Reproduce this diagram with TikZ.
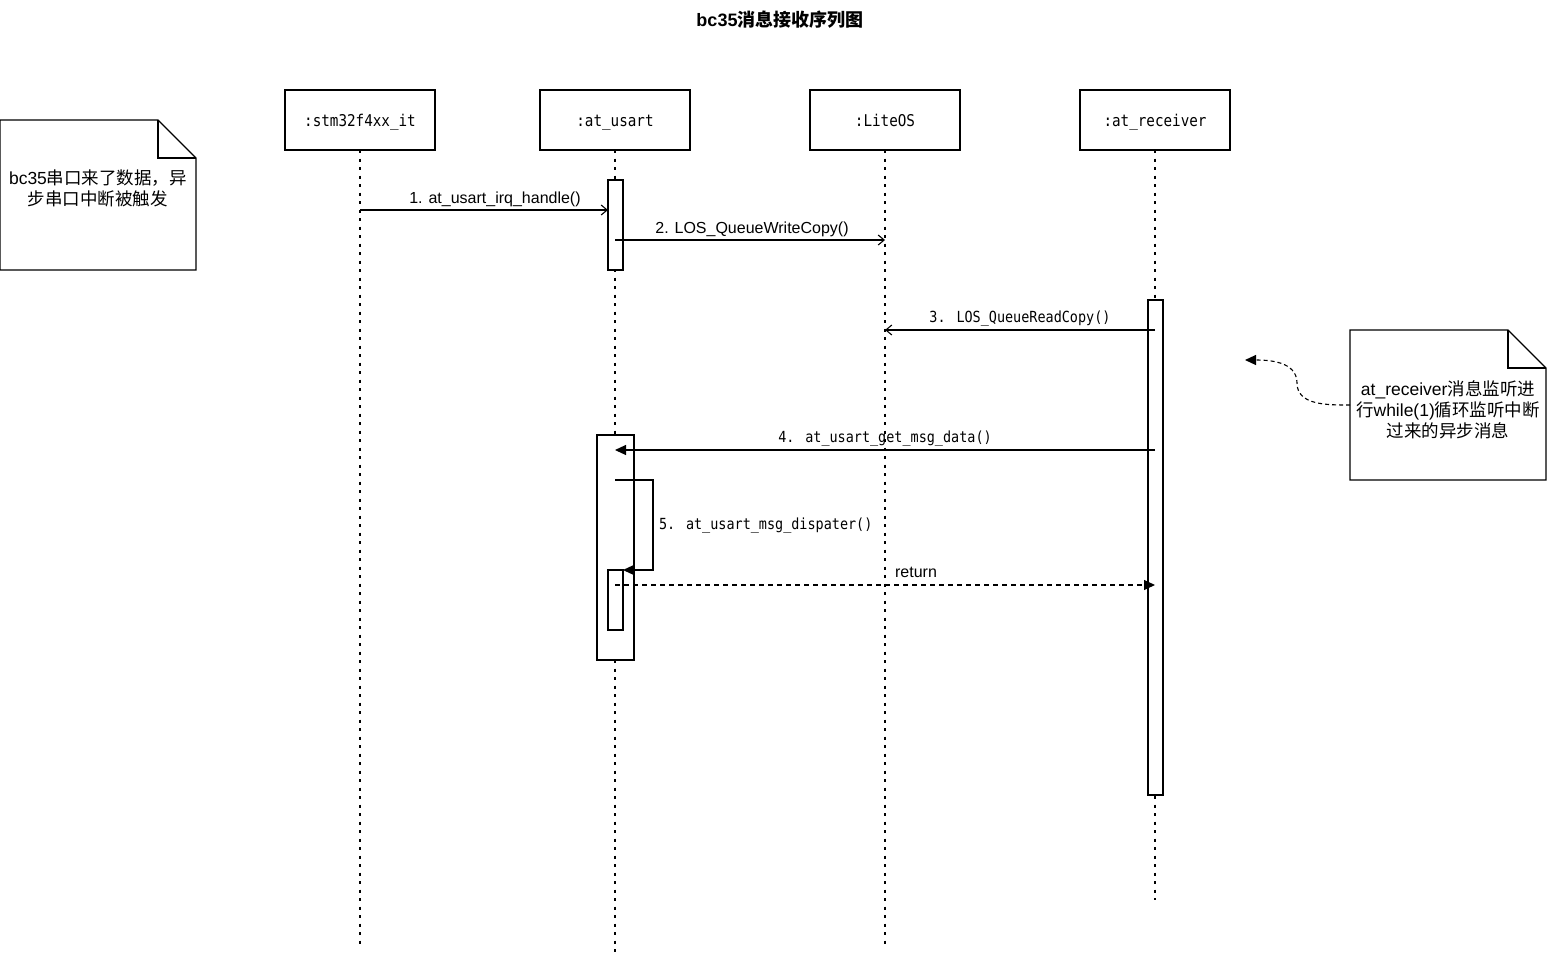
\documentclass[tikz,border=0pt]{standalone}
\usepackage{fontspec}
\setmainfont{Liberation Sans}
\newfontfamily\cjk{Noto Sans CJK SC}
\newfontfamily\mono[FakeStretch=0.88]{DejaVu Sans Mono}
\usetikzlibrary{arrows.meta}
\begin{document}
\begin{tikzpicture}[x=1pt,y=-1pt,
  every node/.style={inner sep=0pt, outer sep=0pt},
  obj/.style={draw, line width=1.1pt, minimum width=150pt, minimum height=60pt, font=\mono\fontsize{16.2}{18}\selectfont, text height=12pt, text depth=0pt, anchor=north west},
  life/.style={line width=1.1pt, dash pattern=on 3pt off 5.5pt},
  act/.style={draw, fill=white, line width=1.1pt, anchor=north west},
  msg/.style={line width=1.1pt},
  openhead/.style={-{Straight Barb[length=6pt,width=10pt]}},
  fillhead/.style={-{Triangle[length=11pt,width=10pt]}},
  lbl/.style={font=\fontsize{16}{19}\selectfont, anchor=base},
  mlbl/.style={font=\mono\fontsize{15.3}{18}\selectfont, anchor=base},
  notebox/.style={draw, line width=1.1pt, fill=white, line join=miter},
  notetext/.style={font=\fontsize{17.5}{21}\selectfont, align=center},
]
\useasboundingbox[fill=white] (0,0) rectangle (1547,962);

% title
\node[font=\bfseries\fontsize{18}{22}\selectfont, anchor=base] (title) at (780,26) {bc35{\cjk 消息接收序列图}};

% objects
\node[obj] (stm) at (285,90) {:stm32f4xx\_it};
\node[obj] (usart) at (540,90) {:at\_usart};
\node[obj] (los) at (810,90) {:LiteOS};
\node[obj] (rcv) at (1080,90) {:at\_receiver};

% lifeline ends
\coordinate (stmEnd) at (360,945);
\coordinate (usartEnd) at (615,955);
\coordinate (losEnd) at (885,945);
\coordinate (rcvEnd) at (1155,900);

\draw[life] (stm.south) -- (stmEnd);
\draw[life] (usart.south) -- (usartEnd);
\draw[life] (los.south) -- (losEnd);
\draw[life] (rcv.south) -- (rcvEnd);

% activations
\node[act, minimum width=15pt, minimum height=90pt] (a1) at (608,180) {};
\node[act, minimum width=15pt, minimum height=495pt] (a3) at (1148,300) {};
\node[act, minimum width=37pt, minimum height=225pt] (a4) at (597,435) {};
\node[act, minimum width=15pt, minimum height=60pt] (a5) at (608,570) {};

% message coordinates
\coordinate (m1s) at (360,210);
\coordinate (m2s) at (615,240);
\coordinate (m2e) at (885,240);
\coordinate (m3s) at (1155,330);
\coordinate (m3e) at (885,330);
\coordinate (m4s) at (1155,450);
\coordinate (m4e) at (615,450);
\coordinate (m5s) at (615,480);
\coordinate (m5a) at (653,480);
\coordinate (m5b) at (653,570);
\coordinate (m5e) at (623,570);
\coordinate (rs) at (615,585);
\coordinate (re) at (1155,585);

% messages
\draw[msg,openhead] (m1s) -- (a1.west |- m1s);
\node[lbl] (l1) at (495,203) {1. at\_usart\_irq\_handle()};

\draw[msg,openhead] (m2s) -- (m2e);
\node[lbl] (l2) at (752,233) {2. LOS\_QueueWriteCopy()};

\draw[msg,openhead] (m3s) -- (m3e);
\node[mlbl] (l3) at (1020,322) {3. LOS\_QueueReadCopy()};

\draw[msg,fillhead] (m4s) -- (m4e);
\node[mlbl] (l4) at (885,442) {4. at\_usart\_get\_msg\_data()};

\draw[msg,fillhead] (m5s) -- (m5a) -- (m5b) -- (m5e);
\node[mlbl, anchor=base west] (l5) at (659,529) {5. at\_usart\_msg\_dispater()};

\draw[msg,fillhead, dash pattern=on 5pt off 4pt] (rs) -- (re);
\node[lbl] (lr) at (916,577) {return};

% note 1
\draw[notebox] (0,120) -- (158,120) -- (196,158) -- (196,270) -- (0,270) -- cycle;
\draw[line width=1.1pt] (158,120) -- (158,158) -- (196,158);
\node[notetext] (n1) at (98,188.5) {bc35{\cjk 串口来了数据，异}\\{\cjk 步串口中断被触发}};

% note 2
\draw[notebox] (1350,330) -- (1508,330) -- (1546,368) -- (1546,480) -- (1350,480) -- cycle;
\draw[line width=1.1pt] (1508,330) -- (1508,368) -- (1546,368);
\node[notetext] (n2) at (1448,409.5) {at\_receiver{\cjk 消息监听进}\\{\cjk 行}while(1){\cjk 循环监听中断}\\{\cjk 过来的异步消息}};

\coordinate (n2w) at (1350,405);
\coordinate (n2m) at (1297,383);
\coordinate (n2t) at (1245,360);
\draw[msg,fillhead, dash pattern=on 4pt off 3pt] (n2w) to[out=180,in=-90] (n2m) to[out=90,in=0] (n2t);
\end{tikzpicture}
\end{document}
